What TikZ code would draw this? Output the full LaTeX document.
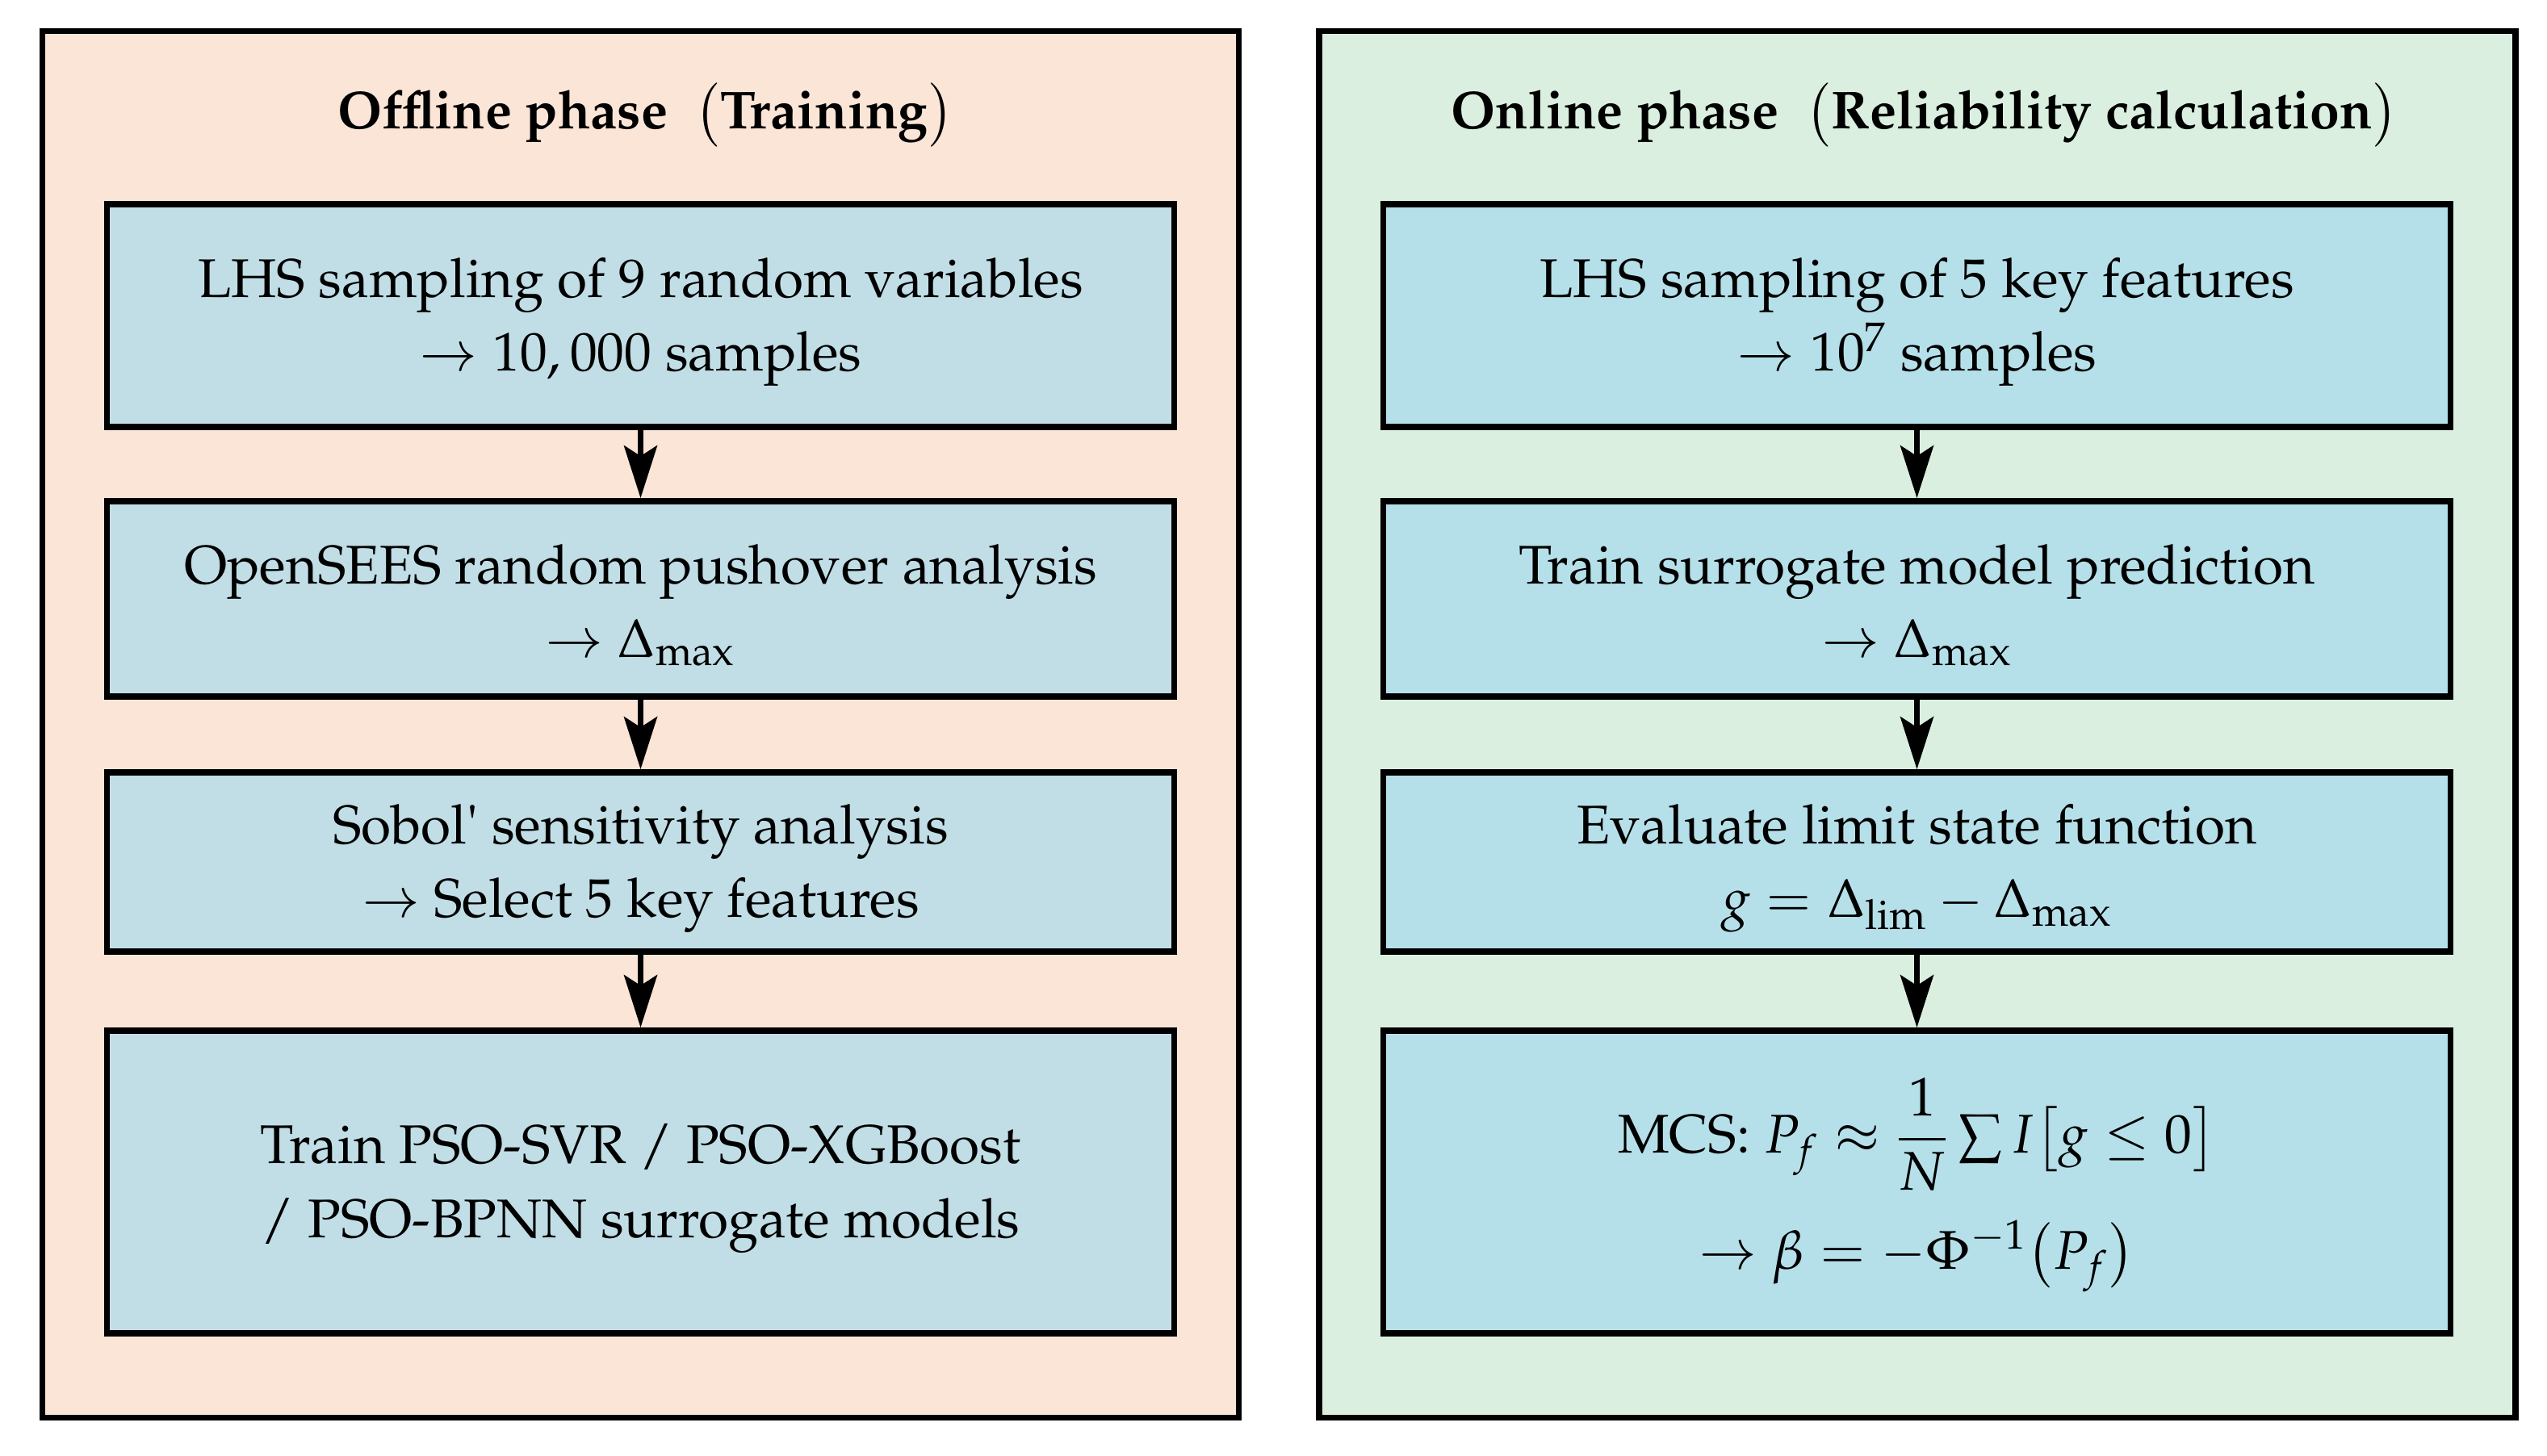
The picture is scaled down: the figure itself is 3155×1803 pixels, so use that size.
\documentclass[tikz,border=0pt]{standalone}
\usepackage[T1]{fontenc}
\usepackage{mathpazo}
\usepackage{amsmath}
\usetikzlibrary{arrows.meta}
\definecolor{leftbg}{RGB}{250,229,215}
\definecolor{leftbox}{RGB}{193,222,230}
\definecolor{rightbg}{RGB}{218,239,223}
\definecolor{rightbox}{RGB}{182,224,233}
\newcommand{\bodyfont}{\fontsize{19.2}{26}\selectfont}
\newcommand{\headfont}{\fontsize{18.8}{25}\selectfont\bfseries}
\newcommand{\topstrut}{\rule{0pt}{0.65cm}}
\begin{document}
\begin{tikzpicture}[x=0.01cm,y=-0.01cm,
  panel/.style={draw=black, line width=0.075cm, minimum width=14.81cm, minimum height=17.17cm, inner sep=0pt},
  stepbox/.style={draw=black, line width=0.075cm, minimum width=13.21cm, inner sep=0pt, align=center, font=\bodyfont},
  flow/.style={line width=0.07cm, -{Stealth[length=0.65cm,width=0.41cm,inset=0.13cm]}},
  paneltitle/.style={font=\headfont, inner sep=0pt}]
\useasboundingbox (0,0) rectangle (3155,1803);
% panels
\node[panel, fill=leftbg] (lp) at (793.5,897.5) {};
\node[panel, fill=rightbg] (rp) at (2375,897.5) {};
\node[paneltitle] (lt) at (800,143) {Offline phase\ \ $\bigl($Training$\bigr)$};
\node[paneltitle] (rt) at (2384,143) {Online phase\ \ $\bigl($Reliability calculation$\bigr)$};
% left column
\node[stepbox, fill=leftbox, minimum height=2.76cm] (l1) at (793.5,391)
  {\topstrut LHS sampling of $9$ random variables\\$\rightarrow 10,000$ samples};
\node[stepbox, fill=leftbox, minimum height=2.42cm] (l2) at (793.5,742)
  {\topstrut OpenSEES random pushover analysis\\$\rightarrow$ $\Delta_{\max}$};
\node[stepbox, fill=leftbox, minimum height=2.22cm] (l3) at (793.5,1068)
  {\topstrut Sobol\textquotesingle\ sensitivity analysis\\$\rightarrow$ Select $5$ key features};
\node[stepbox, fill=leftbox, minimum height=3.75cm] (l4) at (793.5,1464.5)
  {\topstrut Train PSO-SVR / PSO-XGBoost\\/ PSO-BPNN surrogate models};
% right column
\node[stepbox, fill=rightbox, minimum height=2.76cm] (r1) at (2374.5,391)
  {\topstrut LHS sampling of $5$ key features\\$\rightarrow 10^{7}$ samples};
\node[stepbox, fill=rightbox, minimum height=2.42cm] (r2) at (2374.5,742)
  {\topstrut Train surrogate model prediction\\$\rightarrow$ $\Delta_{\max}$};
\node[stepbox, fill=rightbox, minimum height=2.22cm] (r3) at (2374.5,1068)
  {\topstrut Evaluate limit state function\\$g=\Delta_{\lim}-\Delta_{\max}$};
\node[stepbox, fill=rightbox, minimum height=3.75cm] (r4) at (2374.5,1464.5)
  {\rule{0pt}{1.0cm}MCS: $P_f\approx\dfrac{1}{N}\sum I\bigl[g\le 0\bigr]$\\[0.33cm]$\rightarrow \beta=-\Phi^{-1}\bigl(P_f\bigr)$};
% connectors
\draw[flow] (l1.south) -- (l2.north);
\draw[flow] (l2.south) -- (l3.north);
\draw[flow] (l3.south) -- (l4.north);
\draw[flow] (r1.south) -- (r2.north);
\draw[flow] (r2.south) -- (r3.north);
\draw[flow] (r3.south) -- (r4.north);
\end{tikzpicture}
\end{document}
